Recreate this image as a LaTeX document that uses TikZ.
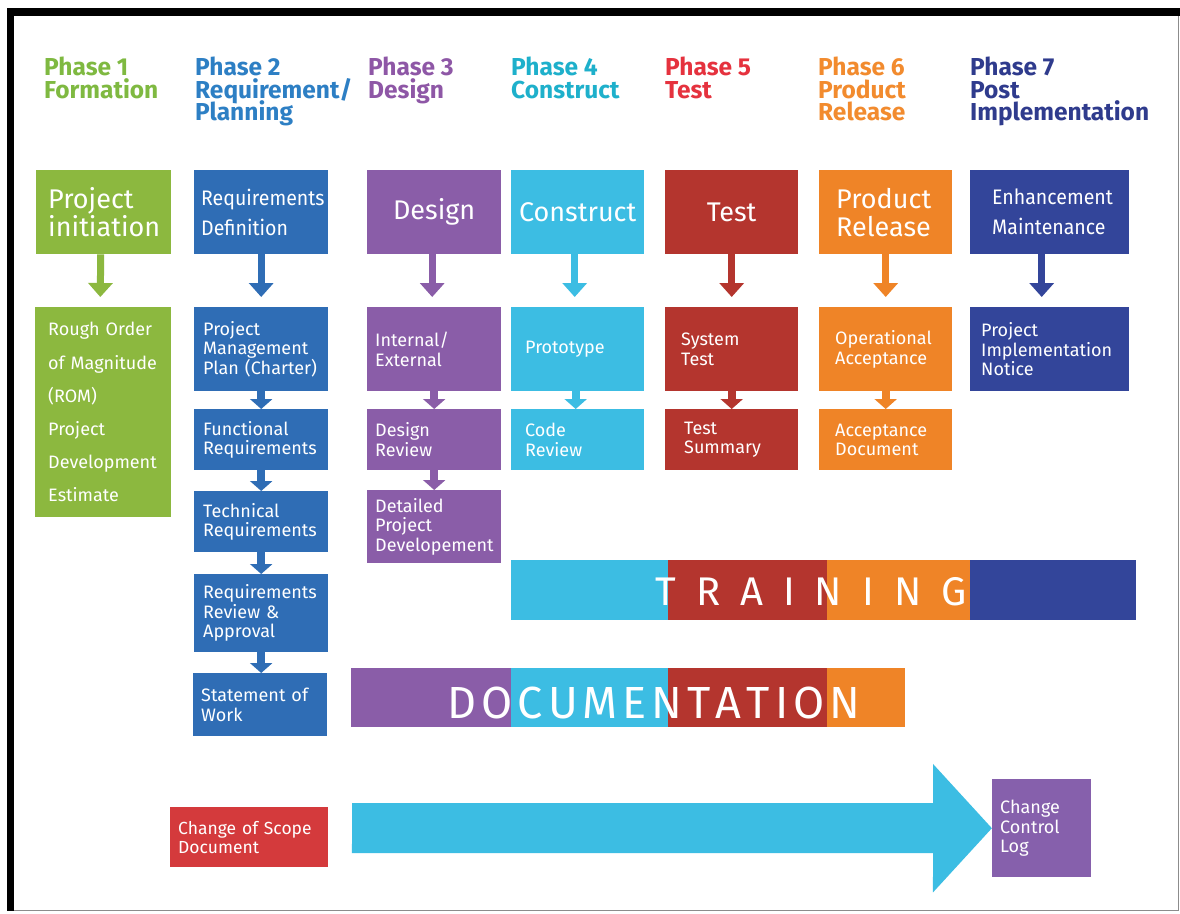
\documentclass[tikz,border=0pt]{standalone}
\usepackage{fontspec}
\setmainfont{Fira Sans}
\usetikzlibrary{arrows.meta}
\definecolor{grn}{HTML}{8CB83F}
\definecolor{hgrn}{HTML}{7FB941}
\definecolor{blu}{HTML}{2F6DB5}
\definecolor{hblu}{HTML}{2D7FC4}
\definecolor{pur}{HTML}{8A5DA8}
\definecolor{hpur}{HTML}{8E57A6}
\definecolor{cyn}{HTML}{3CBDE3}
\definecolor{hcyn}{HTML}{1EB0CB}
\definecolor{red1}{HTML}{B4352E}
\definecolor{hred}{HTML}{E5323E}
\definecolor{org}{HTML}{EF8427}
\definecolor{horg}{HTML}{F28B2E}
\definecolor{nav}{HTML}{33459A}
\definecolor{hnav}{HTML}{2F3B8D}
\definecolor{red2}{HTML}{D43A3C}
\definecolor{pur2}{HTML}{8660AC}
\newcommand\fbig{\fontsize{27}{28}\selectfont}
\newcommand\fcond{\fontsize{21}{30}\selectfont\addfontfeature{FakeStretch=0.93}}
\newcommand\fsm{\fontsize{18}{19.5}\selectfont}
\newcommand\hdrfont{\fontsize{24.5}{22.3}\selectfont\bfseries\lineskiplimit=-30pt\relax\lineskip=0pt\relax}
\begin{document}
\begin{tikzpicture}[x=1pt,y=-1pt,
  hdr/.style={anchor=north west, inner sep=0pt, align=left, font=\hdrfont},
  bx/.style={rectangle, anchor=north west, inner ysep=0pt, align=left, text=white},
  bigarr/.style={line width=7pt, -{Triangle[width=24pt,length=14pt]}, shorten >=10pt},
  smarr/.style={line width=8pt, -{Triangle[width=22pt,length=10pt]}},
  bartxt/.style={text=white, inner sep=0pt}
]
\useasboundingbox (0,0) rectangle (1180,913);
\fill[white] (0,0) rectangle (1180,913);
% frame
\fill[black] (7,8) rectangle (1180,16);
\fill[black] (7,8) rectangle (14,911);
\draw[black!45, line width=1pt] (14,910) -- (1178,910) -- (1178,16);

% headers
\node[hdr, text=hgrn] (h1) at (44,57) {Phase 1\\Formation};
\node[hdr, text=hblu] (h2) at (195,57) {Phase 2\\Requirement/\\Planning};
\node[hdr, text=hpur] (h3) at (368,57) {Phase 3\\Design};
\node[hdr, text=hcyn] (h4) at (511,57) {Phase 4\\Construct};
\node[hdr, text=hred] (h5) at (665,57) {Phase 5\\Test};
\node[hdr, text=horg] (h6) at (818,57) {Phase 6\\Product\\Release};
\node[hdr, text=hnav] (h7) at (970,57) {Phase 7\\Post\\Implementation};

% row 1
\node[bx, fill=grn, minimum width=135pt, minimum height=84pt, inner xsep=12pt, text width=111pt, font=\fbig] (pi) at (36,170) {Project\\initiation};
\node[bx, fill=blu, minimum width=134pt, minimum height=84pt, inner xsep=7pt, text width=120pt, font=\fcond] (rd) at (194,170) {Requirements\\Definition};
\node[bx, fill=pur, minimum width=134pt, minimum height=84pt, inner xsep=4pt, text width=126pt, align=center, font=\fbig] (ds) at (367,170) {Design};
\node[bx, fill=cyn, minimum width=133pt, minimum height=84pt, inner xsep=4pt, text width=125pt, align=center, font=\fbig] (cs) at (511,170) {Construct};
\node[bx, fill=red1, minimum width=133pt, minimum height=84pt, inner xsep=4pt, text width=125pt, align=center, font=\fbig] (ts) at (665,170) {Test};
\node[bx, fill=org, minimum width=133pt, minimum height=84pt, inner xsep=17pt, text width=99pt, font=\fbig] (pr) at (819,170) {Product\\Release};
\node[bx, fill=nav, minimum width=159pt, minimum height=84pt, inner xsep=22pt, text width=115pt, font=\fcond] (em) at (970,170) {Enhancement\\Maintenance};

% row 2
\node[bx, fill=grn, minimum width=136pt, minimum height=210pt, inner xsep=13pt, text width=110pt, font=\fontsize{18}{33.2}\selectfont] (rom) at (35,307) {Rough Order\\of Magnitude\\(ROM)\\Project\\Development\\Estimate};
\node[bx, fill=blu, minimum width=134pt, minimum height=84pt, inner xsep=9pt, text width=116pt, font=\fsm] (pmp) at (194,307) {Project\\Management\\Plan (Charter)};
\node[bx, fill=pur, minimum width=134pt, minimum height=84pt, inner xsep=8pt, text width=118pt, font=\fsm] (ie) at (367,307) {Internal/\\External};
\node[bx, fill=cyn, minimum width=133pt, minimum height=84pt, inner xsep=14pt, text width=105pt, font=\fsm] (pt) at (511,307) {Prototype};
\node[bx, fill=red1, minimum width=133pt, minimum height=84pt, inner xsep=16pt, text width=101pt, font=\fsm] (st) at (665,307) {System\\Test};
\node[bx, fill=org, minimum width=133pt, minimum height=84pt, inner xsep=16pt, text width=101pt, font=\fsm] (oa) at (819,307) {Operational\\Acceptance};
\node[bx, fill=nav, minimum width=159pt, minimum height=84pt, inner xsep=11pt, text width=137pt, font=\fsm] (pin) at (970,307) {Project\\Implementation\\Notice};

% row 3
\node[bx, fill=blu, minimum width=134pt, minimum height=61pt, inner xsep=9pt, text width=116pt, font=\fsm] (fr) at (194,409) {Functional\\Requirements};
\node[bx, fill=pur, minimum width=134pt, minimum height=61pt, inner xsep=8pt, text width=118pt, font=\fsm] (dr) at (367,409) {Design\\Review};
\node[bx, fill=cyn, minimum width=133pt, minimum height=61pt, inner xsep=14pt, text width=105pt, font=\fsm] (cr) at (511,409) {Code\\Review};
\node[bx, fill=red1, minimum width=133pt, minimum height=61pt, inner xsep=19pt, text width=95pt, font=\fsm] (tsum) at (665,409) {Test\\Summary};
\node[bx, fill=org, minimum width=133pt, minimum height=61pt, inner xsep=16pt, text width=101pt, font=\fsm] (ad) at (819,409) {Acceptance\\Document};

% row 4+
\node[bx, fill=blu, minimum width=134pt, minimum height=61pt, inner xsep=9pt, text width=116pt, font=\fsm] (tr) at (194,491) {Technical\\Requirements};
\node[bx, fill=pur, minimum width=134pt, minimum height=73pt, inner xsep=8pt, text width=118pt, font=\fsm] (dpd) at (367,490) {Detailed\\Project\\Developement};
\node[bx, fill=blu, minimum width=134pt, minimum height=78pt, inner xsep=9pt, text width=116pt, font=\fsm] (rra) at (194,574) {Requirements\\Review \&\\Approval};
\node[bx, fill=blu, minimum width=134pt, minimum height=63pt, inner xsep=8pt, text width=118pt, font=\fsm] (sow) at (193,673) {Statement of\\Work};

% big arrows
\draw[bigarr, grn] ([xshift=-3pt]pi.south) -- ([xshift=-3pt]rom.north);
\draw[bigarr, blu] (rd.south) -- (pmp.north);
\draw[bigarr, pur] ([xshift=-2pt]ds.south) -- ([xshift=-2pt]ie.north);
\draw[bigarr, cyn] ([xshift=-3pt]cs.south) -- ([xshift=-3pt]pt.north);
\draw[bigarr, red1] (ts.south) -- (st.north);
\draw[bigarr, org] (pr.south) -- (oa.north);
\draw[bigarr, nav] ([xshift=-8pt]em.south) -- ([xshift=-8pt]pin.north);

% small arrows
\draw[smarr, blu] (pmp.south) -- (fr.north);
\draw[smarr, blu] (fr.south) -- (tr.north);
\draw[smarr, blu] (tr.south) -- (rra.north);
\draw[smarr, blu] (rra.south) -- (sow.north -| rra.south);
\draw[smarr, pur] (ie.south) -- (dr.north);
\draw[smarr, pur] (dr.south) -- (dpd.north);
\draw[smarr, cyn] ([xshift=-2pt]pt.south) -- ([xshift=-2pt]cr.north);
\draw[smarr, red1] (st.south) -- (tsum.north);
\draw[smarr, org] (oa.south) -- (ad.north);

% training bar
\fill[cyn] (511,560) rectangle (668,620);
\fill[red1] (668,560) rectangle (827,620);
\fill[org] (827,560) rectangle (970,620);
\fill[nav] (970,560) rectangle (1136,620);
\node[bartxt, font=\fontsize{40}{40}\selectfont] (train) at (811,592) {T\kern20pt R\kern20pt A\kern20pt I\kern20pt N\kern20pt I\kern20pt N\kern20pt G};

% documentation bar
\fill[pur] (351,668) rectangle (511,727);
\fill[cyn] (511,668) rectangle (668,727);
\fill[red1] (668,668) rectangle (827,727);
\fill[org] (827,668) rectangle (905,727);
\node[bartxt, font=\fontsize{45}{45}\selectfont] (doc) at (654,703) {D\kern5pt O\kern5pt C\kern5pt U\kern5pt M\kern5pt E\kern5pt N\kern5pt T\kern5pt A\kern5pt T\kern5pt I\kern5pt O\kern5pt N};

% bottom
\node[bx, fill=red2, minimum width=158pt, minimum height=60pt, inner xsep=8pt, text width=142pt, font=\fontsize{17.5}{19}\selectfont] (cos) at (170,807) {Change of Scope\\Document};
\node[bx, fill=pur2, minimum width=99pt, minimum height=98pt, inner xsep=8pt, text width=83pt, font=\fontsize{18}{19.5}\selectfont] (ccl) at (992,779) {Change\\Control\\Log};
\coordinate (cstart) at (352,828);
\draw[cyn, line width=50pt, -{Triangle[width=125pt,length=59pt]}] (cstart) -- (ccl.west);
\end{tikzpicture}
\end{document}
